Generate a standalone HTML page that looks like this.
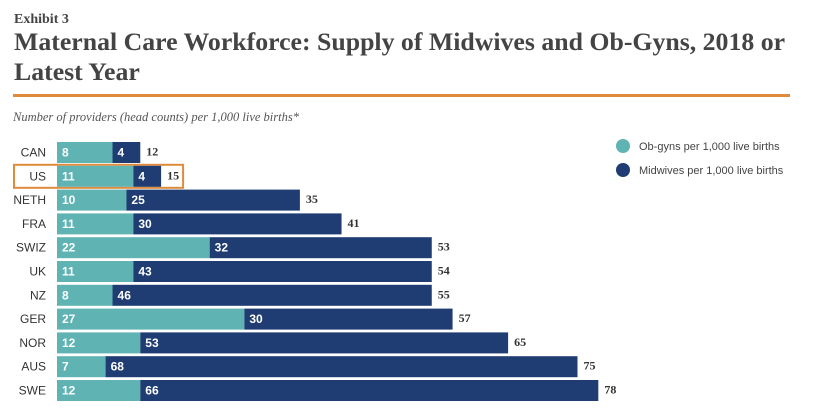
<!DOCTYPE html>
<html><head><meta charset="utf-8"><style>
body{margin:0;background:#fff;width:819px;height:410px;overflow:hidden}
svg{display:block}
</style></head><body>
<svg width="819" height="410">
<text x="14" y="23" font-family="Liberation Serif,serif" font-weight="bold" font-size="14" fill="#444">Exhibit 3</text>
<text x="14" y="50" font-family="Liberation Serif,serif" font-weight="bold" font-size="25.8" fill="#444">Maternal Care Workforce: Supply of Midwives and Ob-Gyns, 2018 or</text>
<text x="14" y="80" font-family="Liberation Serif,serif" font-weight="bold" font-size="25.8" fill="#444">Latest Year</text>
<rect x="13" y="94" width="777" height="3" fill="#e08a3c"/>
<text x="13" y="121" font-family="Liberation Serif,serif" font-style="italic" font-size="12.5" fill="#555">Number of providers (head counts) per 1,000 live births*</text>
<circle cx="623" cy="146" r="7" fill="#5fb3b3"/>
<text x="639" y="150" font-family="Liberation Sans,sans-serif" font-size="11" fill="#444">Ob-gyns per 1,000 live births</text>
<circle cx="623" cy="170" r="7" fill="#1f3d73"/>
<text x="639" y="174" font-family="Liberation Sans,sans-serif" font-size="11" fill="#444">Midwives per 1,000 live births</text>
<g id="bars"></g>
</svg>
<script>
const countries=["CAN","US","NETH","FRA","SWIZ","UK","NZ","GER","NOR","AUS","SWE"];
const obgyn=[8,11,10,11,22,11,8,27,12,7,12];
const midwives=[4,4,25,30,32,43,46,30,53,68,66];
const totals=[12,15,35,41,53,54,55,57,65,75,78];
const x0=57,k=6.94,top0=142,pitch=23.8,bh=21;
const xs=v=>x0+v*k;
const g=document.getElementById('bars');
const NS='http://www.w3.org/2000/svg';
function mk(t,a,txt){const e=document.createElementNS(NS,t);for(const n in a)e.setAttribute(n,a[n]);if(txt!=null)e.textContent=txt;g.appendChild(e);return e;}
countries.forEach((c,i)=>{
 const y=top0+i*pitch,cy=y+bh/2+4;
 if(c==="US"){const b=mk('rect',{x:14,y:y-1,width:xs(totals[i])-14+22,height:bh+2,fill:'none',stroke:'#e08a3c','stroke-width':2});
 
 }
 const l=mk('text',{x:46,y:cy,'text-anchor':'end','font-family':'Liberation Sans,sans-serif','font-size':12,fill:'#333'},c);
 
 
 const a=mk('rect',{x:x0,y:y,width:obgyn[i]*k,height:bh,fill:'#5fb3b3'});
 
 
 const b=mk('rect',{x:xs(obgyn[i]),y:y,width:midwives[i]*k,height:bh,fill:'#1f3d73'});
 
 
 const t1=mk('text',{x:x0+5,y:cy,'font-family':'Liberation Sans,sans-serif','font-weight':'bold','font-size':12,fill:'#fff'},obgyn[i]);
 
 
 const t2=mk('text',{x:xs(obgyn[i])+5,y:cy,'font-family':'Liberation Sans,sans-serif','font-weight':'bold','font-size':12,fill:'#fff'},midwives[i]);
 
 
 const t3=mk('text',{x:xs(obgyn[i]+midwives[i])+6,y:cy-1,'font-family':'Liberation Serif,serif','font-weight':'bold','font-size':12,fill:'#333'},totals[i]);
 
 
});
</script>
</body></html>
